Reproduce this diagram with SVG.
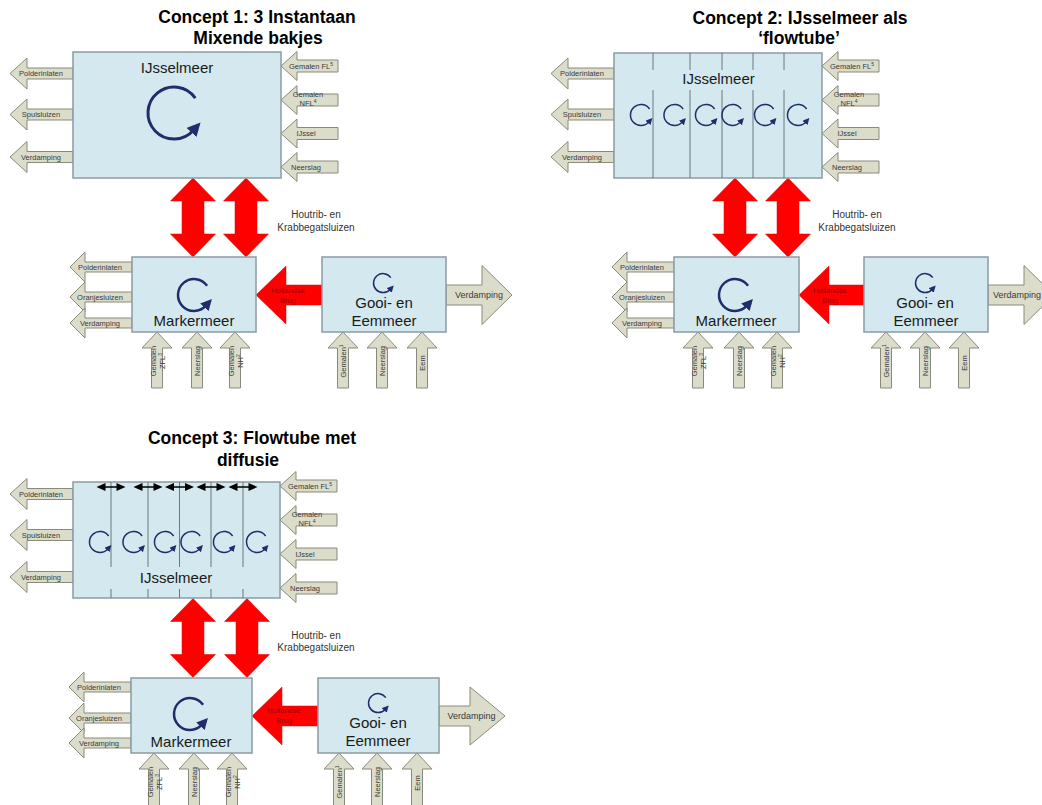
<svg xmlns="http://www.w3.org/2000/svg" width="1042" height="805" viewBox="0 0 1042 805">
<defs>
<style>
.box{fill:#d3e9ef;stroke:#8c9ba2;stroke-width:1.5}
.ga{fill:#dcdccb;stroke:#8a8a7a;stroke-width:1}
.ra{fill:#ff0000;stroke:#e00000;stroke-width:0.5}
.dv{stroke:#6e777b;stroke-width:1;fill:none}
.cir{fill:none;stroke:#1f2d6b;marker-end:url(#ah)}
.t{font-family:"Liberation Sans",Arial,sans-serif}
.title{font-size:17.5px;font-weight:bold;fill:#000;text-anchor:middle}
.lake{font-size:15px;fill:#1a1a1a;text-anchor:middle}
.sm{font-size:7.5px;fill:#3a3a3a;text-anchor:middle}
.hb{font-size:7.5px;fill:#a00000;text-anchor:middle}
.lbl{font-size:10px;fill:#333;text-anchor:middle}
.vd{font-size:9px;fill:#3a3a3a;text-anchor:middle}
.sup{font-size:5px}
.dh{fill:#000;stroke:none}
.dl{stroke:#000;stroke-width:1.5;fill:none}
</style>
<marker id="ah" viewBox="0 0 10 10" refX="2" refY="5" markerWidth="4.5" markerHeight="4.5" orient="auto"><path d="M0,0 L10,5 L0,10 Z" fill="#1f2d6b"/></marker>
</defs>

<!-- Titles -->
<text class="t title" x="257" y="23">Concept 1: 3 Instantaan</text>
<text class="t title" x="258" y="44">Mixende bakjes</text>
<text class="t title" x="800" y="24">Concept 2: IJsselmeer als</text>
<text class="t title" x="799" y="44">‘flowtube’</text>
<text class="t title" x="252" y="444">Concept 3: Flowtube met</text>
<text class="t title" x="248" y="466">diffusie</text>

<g id="connectors">
<!-- ===== Concept 1 ===== -->
<g id="c1-out-polderinlaten" transform="translate(10,73.5)"><path class="ga" d="M0,0 L17,-15.5 L17,-5.5 L63,-5.5 L63,5.5 L17,5.5 L17,15.5 Z"/><text class="t sm" x="31" y="2.5">Polderinlaten</text></g>
<g id="c1-out-spuisluizen" transform="translate(10,114.5)"><path class="ga" d="M0,0 L17,-15.5 L17,-5.5 L63,-5.5 L63,5.5 L17,5.5 L17,15.5 Z"/><text class="t sm" x="31" y="2.5">Spuisluizen</text></g>
<g id="c1-out-verdamping" transform="translate(10,157)"><path class="ga" d="M0,0 L17,-15.5 L17,-5.5 L63,-5.5 L63,5.5 L17,5.5 L17,15.5 Z"/><text class="t sm" x="31" y="2.5">Verdamping</text></g>
<g id="c1-in-fl" transform="translate(281,66)"><path class="ga" d="M0,0 L16,-14.5 L16,-6 L57,-6 L57,6 L16,6 L16,14.5 Z"/><text class="t sm" x="30" y="2.5">Gemalen FL<tspan class="sup" dy="-3">5</tspan></text></g>
<g id="c1-in-nfl" transform="translate(281,100)"><path class="ga" d="M0,0 L16,-14.5 L16,-6 L57,-6 L57,6 L16,6 L16,14.5 Z"/><text class="t sm" x="27" y="-3">Gemalen</text><text class="t sm" x="27" y="6">NFL<tspan class="sup" dy="-3">4</tspan></text></g>
<g id="c1-in-ijssel" transform="translate(281,133.5)"><path class="ga" d="M0,0 L16,-14.5 L16,-6 L57,-6 L57,6 L16,6 L16,14.5 Z"/><text class="t sm" x="25" y="2.5">IJssel</text></g>
<g id="c1-in-neerslag" transform="translate(281,167)"><path class="ga" d="M0,0 L16,-14.5 L16,-6 L57,-6 L57,6 L16,6 L16,14.5 Z"/><text class="t sm" x="25" y="2.5">Neerslag</text></g>
<g id="c1-sluizen-a" transform="translate(193,178)"><path class="ra" d="M0,0 L22.5,23 L11,23 L11,56 L22.5,56 L0,79 L-22.5,56 L-11,56 L-11,23 L-22.5,23 Z"/></g>
<g id="c1-sluizen-b" transform="translate(246,178)"><path class="ra" d="M0,0 L22.5,23 L11,23 L11,56 L22.5,56 L0,79 L-22.5,56 L-11,56 L-11,23 L-22.5,23 Z"/></g>
<text class="t lbl" x="316" y="218">Houtrib- en</text>
<text class="t lbl" x="316" y="231">Krabbegatsluizen</text>
<g id="c1-mm-polderinlaten" transform="translate(70,267)"><path class="ga" d="M0,0 L15,-15 L15,-5 L62,-5 L62,5 L15,5 L15,15 Z"/><text class="t sm" x="30" y="2.5">Polderinlaten</text></g>
<g id="c1-mm-oranjesluizen" transform="translate(70,297)"><path class="ga" d="M0,0 L15,-15 L15,-5 L62,-5 L62,5 L15,5 L15,15 Z"/><text class="t sm" x="30" y="2.5">Oranjesluizen</text></g>
<g id="c1-mm-verdamping" transform="translate(70,323)"><path class="ga" d="M0,0 L15,-15 L15,-5 L62,-5 L62,5 L15,5 L15,15 Z"/><text class="t sm" x="30" y="2.5">Verdamping</text></g>
<g id="c1-mm-zfl" transform="translate(157,332)"><path class="ga" d="M0,0 L15,16 L5.5,16 L5.5,56 L-5.5,56 L-5.5,16 L-15,16 Z"/><text class="t sm" transform="translate(0,29) rotate(-90)"><tspan x="0" y="-1">Gemalen</tspan><tspan x="0" y="7.5">ZFL<tspan class="sup" dy="-3">3</tspan></tspan></text></g>
<g id="c1-mm-neerslag" transform="translate(197,332)"><path class="ga" d="M0,0 L15,16 L5.5,16 L5.5,56 L-5.5,56 L-5.5,16 L-15,16 Z"/><text class="t sm" transform="translate(0,29) rotate(-90)" x="0" y="3">Neerslag</text></g>
<g id="c1-mm-nh" transform="translate(235,332)"><path class="ga" d="M0,0 L15,16 L5.5,16 L5.5,56 L-5.5,56 L-5.5,16 L-15,16 Z"/><text class="t sm" transform="translate(0,29) rotate(-90)"><tspan x="0" y="-1">Gemalen</tspan><tspan x="0" y="7.5">NH<tspan class="sup" dy="-3">2</tspan></tspan></text></g>
<g id="c1-hollandse-brug" transform="translate(256,295)"><path class="ra" d="M0,0 L30,-29 L30,-10 L66,-10 L66,10 L30,10 L30,29 Z"/><text class="t hb" x="32" y="-2">Hollandse</text><text class="t hb" x="32" y="8">Brug</text></g>
<g id="c1-ge-verdamping" transform="translate(446,295)"><path class="ga" d="M0,-10 L36,-10 L36,-29.5 L66,0 L36,29.5 L36,10 L0,10 Z"/><text class="t vd" x="33" y="2.5">Verdamping</text></g>
<g id="c1-ge-gemalen" transform="translate(343,332)"><path class="ga" d="M0,0 L15,16 L5.5,16 L5.5,56 L-5.5,56 L-5.5,16 L-15,16 Z"/><text class="t sm" transform="translate(0,29) rotate(-90)" x="0" y="3">Gemalen<tspan class="sup" dy="-3">1</tspan></text></g>
<g id="c1-ge-neerslag" transform="translate(382,332)"><path class="ga" d="M0,0 L15,16 L5.5,16 L5.5,56 L-5.5,56 L-5.5,16 L-15,16 Z"/><text class="t sm" transform="translate(0,29) rotate(-90)" x="0" y="3">Neerslag</text></g>
<g id="c1-ge-eem" transform="translate(422,332)"><path class="ga" d="M0,0 L15,16 L5.5,16 L5.5,56 L-5.5,56 L-5.5,16 L-15,16 Z"/><text class="t sm" transform="translate(0,31) rotate(-90)" x="0" y="3">Eem</text></g>

<!-- ===== Concept 2 ===== -->
<g id="c2-out-polderinlaten" transform="translate(551,73.5)"><path class="ga" d="M0,0 L17,-15.5 L17,-5.5 L63,-5.5 L63,5.5 L17,5.5 L17,15.5 Z"/><text class="t sm" x="31" y="2.5">Polderinlaten</text></g>
<g id="c2-out-spuisluizen" transform="translate(551,114.5)"><path class="ga" d="M0,0 L17,-15.5 L17,-5.5 L63,-5.5 L63,5.5 L17,5.5 L17,15.5 Z"/><text class="t sm" x="31" y="2.5">Spuisluizen</text></g>
<g id="c2-out-verdamping" transform="translate(551,157)"><path class="ga" d="M0,0 L17,-15.5 L17,-5.5 L63,-5.5 L63,5.5 L17,5.5 L17,15.5 Z"/><text class="t sm" x="31" y="2.5">Verdamping</text></g>
<g id="c2-in-fl" transform="translate(822,66)"><path class="ga" d="M0,0 L16,-14.5 L16,-6 L57,-6 L57,6 L16,6 L16,14.5 Z"/><text class="t sm" x="30" y="2.5">Gemalen FL<tspan class="sup" dy="-3">5</tspan></text></g>
<g id="c2-in-nfl" transform="translate(822,100)"><path class="ga" d="M0,0 L16,-14.5 L16,-6 L57,-6 L57,6 L16,6 L16,14.5 Z"/><text class="t sm" x="27" y="-3">Gemalen</text><text class="t sm" x="27" y="6">NFL<tspan class="sup" dy="-3">4</tspan></text></g>
<g id="c2-in-ijssel" transform="translate(822,133.5)"><path class="ga" d="M0,0 L16,-14.5 L16,-6 L57,-6 L57,6 L16,6 L16,14.5 Z"/><text class="t sm" x="25" y="2.5">IJssel</text></g>
<g id="c2-in-neerslag" transform="translate(822,167)"><path class="ga" d="M0,0 L16,-14.5 L16,-6 L57,-6 L57,6 L16,6 L16,14.5 Z"/><text class="t sm" x="25" y="2.5">Neerslag</text></g>
<g id="c2-sluizen-a" transform="translate(735,178)"><path class="ra" d="M0,0 L22.5,23 L11,23 L11,56 L22.5,56 L0,79 L-22.5,56 L-11,56 L-11,23 L-22.5,23 Z"/></g>
<g id="c2-sluizen-b" transform="translate(788,178)"><path class="ra" d="M0,0 L22.5,23 L11,23 L11,56 L22.5,56 L0,79 L-22.5,56 L-11,56 L-11,23 L-22.5,23 Z"/></g>
<text class="t lbl" x="857" y="218">Houtrib- en</text>
<text class="t lbl" x="857" y="231">Krabbegatsluizen</text>
<g id="c2-mm-polderinlaten" transform="translate(612,267)"><path class="ga" d="M0,0 L15,-15 L15,-5 L62,-5 L62,5 L15,5 L15,15 Z"/><text class="t sm" x="30" y="2.5">Polderinlaten</text></g>
<g id="c2-mm-oranjesluizen" transform="translate(612,297)"><path class="ga" d="M0,0 L15,-15 L15,-5 L62,-5 L62,5 L15,5 L15,15 Z"/><text class="t sm" x="30" y="2.5">Oranjesluizen</text></g>
<g id="c2-mm-verdamping" transform="translate(612,323)"><path class="ga" d="M0,0 L15,-15 L15,-5 L62,-5 L62,5 L15,5 L15,15 Z"/><text class="t sm" x="30" y="2.5">Verdamping</text></g>
<g id="c2-mm-zfl" transform="translate(698,332)"><path class="ga" d="M0,0 L15,16 L5.5,16 L5.5,56 L-5.5,56 L-5.5,16 L-15,16 Z"/><text class="t sm" transform="translate(0,29) rotate(-90)"><tspan x="0" y="-1">Gemalen</tspan><tspan x="0" y="7.5">ZFL<tspan class="sup" dy="-3">3</tspan></tspan></text></g>
<g id="c2-mm-neerslag" transform="translate(739,332)"><path class="ga" d="M0,0 L15,16 L5.5,16 L5.5,56 L-5.5,56 L-5.5,16 L-15,16 Z"/><text class="t sm" transform="translate(0,29) rotate(-90)" x="0" y="3">Neerslag</text></g>
<g id="c2-mm-nh" transform="translate(777,332)"><path class="ga" d="M0,0 L15,16 L5.5,16 L5.5,56 L-5.5,56 L-5.5,16 L-15,16 Z"/><text class="t sm" transform="translate(0,29) rotate(-90)"><tspan x="0" y="-1">Gemalen</tspan><tspan x="0" y="7.5">NH<tspan class="sup" dy="-3">2</tspan></tspan></text></g>
<g id="c2-hollandse-brug" transform="translate(799,295)"><path class="ra" d="M0,0 L30,-29 L30,-10 L66,-10 L66,10 L30,10 L30,29 Z"/><text class="t hb" x="31" y="-2">Hollandse</text><text class="t hb" x="31" y="8">Brug</text></g>
<g id="c2-ge-verdamping" transform="translate(988,295)"><path class="ga" d="M0,-10 L36,-10 L36,-29.5 L66,0 L36,29.5 L36,10 L0,10 Z"/><text class="t vd" x="29" y="2.5">Verdamping</text></g>
<g id="c2-ge-gemalen" transform="translate(886,332)"><path class="ga" d="M0,0 L15,16 L5.5,16 L5.5,56 L-5.5,56 L-5.5,16 L-15,16 Z"/><text class="t sm" transform="translate(0,29) rotate(-90)" x="0" y="3">Gemalen<tspan class="sup" dy="-3">1</tspan></text></g>
<g id="c2-ge-neerslag" transform="translate(925,332)"><path class="ga" d="M0,0 L15,16 L5.5,16 L5.5,56 L-5.5,56 L-5.5,16 L-15,16 Z"/><text class="t sm" transform="translate(0,29) rotate(-90)" x="0" y="3">Neerslag</text></g>
<g id="c2-ge-eem" transform="translate(964,332)"><path class="ga" d="M0,0 L15,16 L5.5,16 L5.5,56 L-5.5,56 L-5.5,16 L-15,16 Z"/><text class="t sm" transform="translate(0,31) rotate(-90)" x="0" y="3">Eem</text></g>

<!-- ===== Concept 3 ===== -->
<g id="c3-out-polderinlaten" transform="translate(10,494)"><path class="ga" d="M0,0 L17,-15.5 L17,-5.5 L63,-5.5 L63,5.5 L17,5.5 L17,15.5 Z"/><text class="t sm" x="31" y="2.5">Polderinlaten</text></g>
<g id="c3-out-spuisluizen" transform="translate(10,535)"><path class="ga" d="M0,0 L17,-15.5 L17,-5.5 L63,-5.5 L63,5.5 L17,5.5 L17,15.5 Z"/><text class="t sm" x="31" y="2.5">Spuisluizen</text></g>
<g id="c3-out-verdamping" transform="translate(10,577)"><path class="ga" d="M0,0 L17,-15.5 L17,-5.5 L63,-5.5 L63,5.5 L17,5.5 L17,15.5 Z"/><text class="t sm" x="31" y="2.5">Verdamping</text></g>
<g id="c3-in-fl" transform="translate(280,486)"><path class="ga" d="M0,0 L16,-14.5 L16,-6 L57,-6 L57,6 L16,6 L16,14.5 Z"/><text class="t sm" x="30" y="2.5">Gemalen FL<tspan class="sup" dy="-3">5</tspan></text></g>
<g id="c3-in-nfl" transform="translate(280,520)"><path class="ga" d="M0,0 L16,-14.5 L16,-6 L57,-6 L57,6 L16,6 L16,14.5 Z"/><text class="t sm" x="27" y="-3">Gemalen</text><text class="t sm" x="27" y="6">NFL<tspan class="sup" dy="-3">4</tspan></text></g>
<g id="c3-in-ijssel" transform="translate(280,554)"><path class="ga" d="M0,0 L16,-14.5 L16,-6 L57,-6 L57,6 L16,6 L16,14.5 Z"/><text class="t sm" x="25" y="2.5">IJssel</text></g>
<g id="c3-in-neerslag" transform="translate(280,588)"><path class="ga" d="M0,0 L16,-14.5 L16,-6 L57,-6 L57,6 L16,6 L16,14.5 Z"/><text class="t sm" x="25" y="2.5">Neerslag</text></g>
<g id="c3-sluizen-a" transform="translate(193,598.5)"><path class="ra" d="M0,0 L22.5,23 L11,23 L11,56 L22.5,56 L0,79 L-22.5,56 L-11,56 L-11,23 L-22.5,23 Z"/></g>
<g id="c3-sluizen-b" transform="translate(247,598.5)"><path class="ra" d="M0,0 L22.5,23 L11,23 L11,56 L22.5,56 L0,79 L-22.5,56 L-11,56 L-11,23 L-22.5,23 Z"/></g>
<text class="t lbl" x="316" y="639">Houtrib- en</text>
<text class="t lbl" x="316" y="651">Krabbegatsluizen</text>
<g id="c3-mm-polderinlaten" transform="translate(69,687)"><path class="ga" d="M0,0 L15,-15 L15,-5 L62,-5 L62,5 L15,5 L15,15 Z"/><text class="t sm" x="30" y="2.5">Polderinlaten</text></g>
<g id="c3-mm-oranjesluizen" transform="translate(69,718)"><path class="ga" d="M0,0 L15,-15 L15,-5 L62,-5 L62,5 L15,5 L15,15 Z"/><text class="t sm" x="30" y="2.5">Oranjesluizen</text></g>
<g id="c3-mm-verdamping" transform="translate(69,743)"><path class="ga" d="M0,0 L15,-15 L15,-5 L62,-5 L62,5 L15,5 L15,15 Z"/><text class="t sm" x="30" y="2.5">Verdamping</text></g>
<g id="c3-mm-zfl" transform="translate(154,753)"><path class="ga" d="M0,0 L15,16 L5.5,16 L5.5,56 L-5.5,56 L-5.5,16 L-15,16 Z"/><text class="t sm" transform="translate(0,29) rotate(-90)"><tspan x="0" y="-1">Gemalen</tspan><tspan x="0" y="7.5">ZFL<tspan class="sup" dy="-3">3</tspan></tspan></text></g>
<g id="c3-mm-neerslag" transform="translate(194,753)"><path class="ga" d="M0,0 L15,16 L5.5,16 L5.5,56 L-5.5,56 L-5.5,16 L-15,16 Z"/><text class="t sm" transform="translate(0,29) rotate(-90)" x="0" y="3">Neerslag</text></g>
<g id="c3-mm-nh" transform="translate(232,753)"><path class="ga" d="M0,0 L15,16 L5.5,16 L5.5,56 L-5.5,56 L-5.5,16 L-15,16 Z"/><text class="t sm" transform="translate(0,29) rotate(-90)"><tspan x="0" y="-1">Gemalen</tspan><tspan x="0" y="7.5">NH<tspan class="sup" dy="-3">2</tspan></tspan></text></g>
<g id="c3-hollandse-brug" transform="translate(252,716)"><path class="ra" d="M0,0 L30,-29 L30,-10 L66,-10 L66,10 L30,10 L30,29 Z"/><text class="t hb" x="32" y="-3">Hollandse</text><text class="t hb" x="32" y="7">Brug</text></g>
<g id="c3-ge-verdamping" transform="translate(439,716)"><path class="ga" d="M0,-10 L31,-10 L31,-29 L66,0 L31,29 L31,10 L0,10 Z"/><text class="t vd" x="32.5" y="2.5">Verdamping</text></g>
<g id="c3-ge-gemalen" transform="translate(339,753)"><path class="ga" d="M0,0 L15,16 L5.5,16 L5.5,56 L-5.5,56 L-5.5,16 L-15,16 Z"/><text class="t sm" transform="translate(0,29) rotate(-90)" x="0" y="3">Gemalen<tspan class="sup" dy="-3">1</tspan></text></g>
<g id="c3-ge-neerslag" transform="translate(377,753)"><path class="ga" d="M0,0 L15,16 L5.5,16 L5.5,56 L-5.5,56 L-5.5,16 L-15,16 Z"/><text class="t sm" transform="translate(0,29) rotate(-90)" x="0" y="3">Neerslag</text></g>
<g id="c3-ge-eem" transform="translate(417,753)"><path class="ga" d="M0,0 L15,16 L5.5,16 L5.5,56 L-5.5,56 L-5.5,16 L-15,16 Z"/><text class="t sm" transform="translate(0,30) rotate(-90)" x="0" y="3">Eem</text></g>
</g>

<!-- ===== Nodes ===== -->
<g id="c1-ijsselmeer">
<rect class="box" x="73" y="52" width="208" height="126"/>
<text class="t lake" x="177" y="73">IJsselmeer</text>
<path class="cir" stroke-width="3" d="M195.3,98.1 A26,26 0 1 0 193.3,130.4"/>
</g>
<g id="c1-markermeer">
<rect class="box" x="132" y="257" width="124" height="75"/>
<path class="cir" stroke-width="2.5" d="M207.1,285.8 A16,16 0 1 0 205.9,305.7"/>
<text class="t lake" x="194" y="326">Markermeer</text>
</g>
<g id="c1-gooi-eemmeer">
<rect class="box" x="322" y="257" width="124" height="75"/>
<path class="cir" stroke-width="1.5" d="M390.8,277.6 A9.5,9.5 0 1 0 390.1,289.4"/>
<text class="t lake" x="384" y="308">Gooi- en</text>
<text class="t lake" x="384" y="326">Eemmeer</text>
</g>

<g id="c2-ijsselmeer">
<rect class="box" x="614" y="53" width="208" height="125"/>
<path class="dv" d="M653,53V70M653,90V178M690,53V70M690,90V178M722,53V70M722,90V178M753,53V70M753,90V178M784,53V70M784,90V178"/>
<text class="t lake" x="718.5" y="84">IJsselmeer</text>
<path class="cir" stroke-width="1.5" d="M649.6,109 A10.5,10.5 0 1 0 648.8,122"/>
<path class="cir" stroke-width="1.5" d="M683.1,109 A10.5,10.5 0 1 0 682.3,122"/>
<path class="cir" stroke-width="1.5" d="M714.6,109 A10.5,10.5 0 1 0 713.8,122"/>
<path class="cir" stroke-width="1.5" d="M741.1,109 A10.5,10.5 0 1 0 740.3,122"/>
<path class="cir" stroke-width="1.5" d="M773.6,109 A10.5,10.5 0 1 0 772.8,122"/>
<path class="cir" stroke-width="1.5" d="M806.6,109 A10.5,10.5 0 1 0 805.8,122"/>
</g>
<g id="c2-markermeer">
<rect class="box" x="674" y="257" width="125" height="75"/>
<path class="cir" stroke-width="2.5" d="M748.1,285.8 A16,16 0 1 0 746.9,305.7"/>
<text class="t lake" x="736" y="326">Markermeer</text>
</g>
<g id="c2-gooi-eemmeer">
<rect class="box" x="864" y="257" width="124" height="75"/>
<path class="cir" stroke-width="1.5" d="M932.8,277.6 A9.5,9.5 0 1 0 932.1,289.4"/>
<text class="t lake" x="925" y="308">Gooi- en</text>
<text class="t lake" x="926" y="326">Eemmeer</text>
</g>

<g id="c3-ijsselmeer">
<rect class="box" x="73" y="482" width="207" height="116"/>
<path class="dv" d="M111,482V567M111,589V598M148,482V567M148,589V598M179.5,482V567M179.5,589V598M211,482V567M211,589V598M243,482V567M243,589V598"/>
<g id="c3-diffusie">
<path class="dl" d="M105,487H117M142,487H154M173.5,487H185.5M205,487H217M237,487H249"/>
<path class="dh" d="M96.5,487 L105.5,483 L105.5,491Z M125.5,487 L116.5,483 L116.5,491Z M133.5,487 L142.5,483 L142.5,491Z M162.5,487 L153.5,483 L153.5,491Z M165,487 L174,483 L174,491Z M194,487 L185,483 L185,491Z M196.5,487 L205.5,483 L205.5,491Z M225.5,487 L216.5,483 L216.5,491Z M228.5,487 L237.5,483 L237.5,491Z M257.5,487 L248.5,483 L248.5,491Z"/>
</g>
<text class="t lake" x="176" y="583">IJsselmeer</text>
<path class="cir" stroke-width="1.5" d="M108.6,536 A10.5,10.5 0 1 0 107.8,549"/>
<path class="cir" stroke-width="1.5" d="M142.1,536 A10.5,10.5 0 1 0 141.3,549"/>
<path class="cir" stroke-width="1.5" d="M173.6,536 A10.5,10.5 0 1 0 172.8,549"/>
<path class="cir" stroke-width="1.5" d="M200.1,536 A10.5,10.5 0 1 0 199.3,549"/>
<path class="cir" stroke-width="1.5" d="M232.6,536 A10.5,10.5 0 1 0 231.8,549"/>
<path class="cir" stroke-width="1.5" d="M265.6,536 A10.5,10.5 0 1 0 264.8,549"/>
</g>
<g id="c3-markermeer">
<rect class="box" x="131" y="678" width="121" height="75"/>
<path class="cir" stroke-width="2.5" d="M203.1,704.8 A16,16 0 1 0 201.9,724.7"/>
<text class="t lake" x="191" y="747">Markermeer</text>
</g>
<g id="c3-gooi-eemmeer">
<rect class="box" x="318" y="678" width="121" height="75"/>
<path class="cir" stroke-width="1.5" d="M385.8,697.6 A9.5,9.5 0 1 0 385.1,709.4"/>
<text class="t lake" x="378" y="728">Gooi- en</text>
<text class="t lake" x="378" y="746">Eemmeer</text>
</g>
</svg>
